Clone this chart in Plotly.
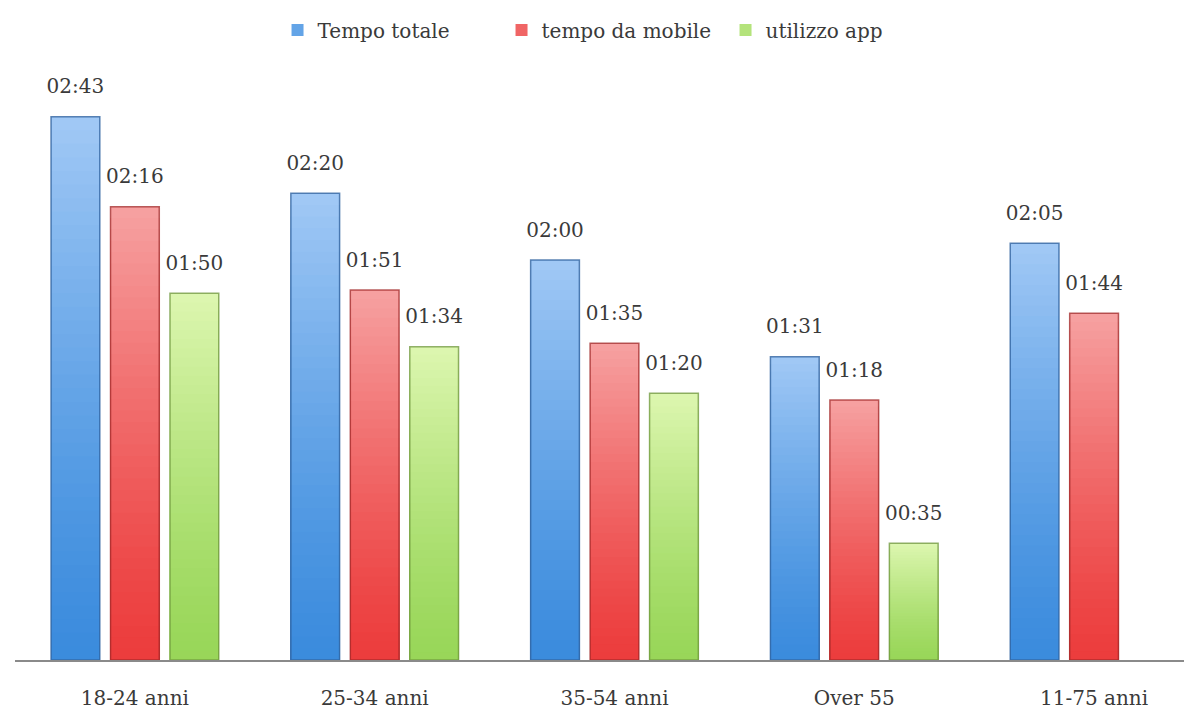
import plotly.graph_objects as go

# Daily time spent online by age band (minutes)
categories = ["18-24 anni", "25-34 anni", "35-54 anni", "Over 55", "11-75 anni"]
series_names = ["Tempo totale", "tempo da mobile", "utilizzo app"]
tempo_totale = [163, 140, 120, 91, 125]
tempo_mobile = [136, 111, 95, 78, 104]
utilizzo_app = [110, 94, 80, 35, None]
series_values = [tempo_totale, tempo_mobile, utilizzo_app]

# (top colour, bottom colour, outline colour) per series
palette = [
    ((160, 200, 245), (58, 139, 221), "rgba(50,100,160,0.8)"),
    ((246, 160, 160), (236, 60, 60), "rgba(160,40,40,0.75)"),
    ((220, 246, 175), (152, 214, 88), "rgba(110,150,60,0.75)"),
]

FONT = "DejaVu Serif"
TEXT_COLOR = "#3a3a3a"
N_STEPS = 40


def mix(c1, c2, t):
    return "rgb({},{},{})".format(*[round(a + (b - a) * t) for a, b in zip(c1, c2)])


def hhmm(v):
    return None if v is None else f"{v // 60:02d}:{v % 60:02d}"


fig = go.Figure()

for s, (name, vals) in enumerate(zip(series_names, series_values)):
    top, bottom, outline = palette[s]
    # vertical shading: tallest/lightest first, shorter/darker bars drawn over it
    for k in range(N_STEPS):
        frac = (N_STEPS - k) / N_STEPS
        fig.add_trace(go.Bar(
            x=categories,
            y=[None if v is None else v * frac for v in vals],
            offsetgroup=str(s),
            legendgroup=name,
            name=name,
            showlegend=(k == N_STEPS // 2),
            marker=dict(color=mix(bottom, top, frac ** 1.3), line=dict(width=0)),
            hoverinfo="skip",
        ))
    # outline of the full bar
    fig.add_trace(go.Bar(
        x=categories,
        y=vals,
        offsetgroup=str(s),
        legendgroup=name,
        name=name,
        showlegend=False,
        marker=dict(color="rgba(0,0,0,0)", line=dict(color=outline, width=1.5)),
        hoverinfo="skip",
    ))

# value labels above each bar
for s, vals in enumerate(series_values):
    fig.add_trace(go.Scatter(
        x=categories,
        y=vals,
        offsetgroup=str(s),
        mode="markers+text",
        text=[hhmm(v) for v in vals],
        textposition="top center",
        textfont=dict(family=FONT, size=20, color=TEXT_COLOR),
        marker=dict(size=28, opacity=0),
        showlegend=False,
        hoverinfo="skip",
        cliponaxis=False,
    ))

fig.update_layout(
    width=1184,
    height=710,
    margin=dict(l=15, r=0, t=60, b=50),
    paper_bgcolor="white",
    plot_bgcolor="white",
    barmode="group",
    bargap=0.256,
    bargroupgap=0.18,
    scattermode="group",
    scattergap=0.256,
    font=dict(family=FONT, color=TEXT_COLOR),
    legend=dict(
        orientation="h",
        x=0.512,
        xanchor="center",
        yref="container",
        y=1 - 30 / 710,
        yanchor="middle",
        font=dict(family=FONT, size=20, color=TEXT_COLOR),
        itemwidth=30,
        entrywidth=179,
        entrywidthmode="pixels",
        traceorder="normal",
    ),
    showlegend=True,
)

fig.update_xaxes(
    type="category",
    range=[-0.5, 4.375],
    showline=True,
    linecolor="#8a8a8a",
    linewidth=1.5,
    ticks="",
    ticklabelstandoff=19,
    tickfont=dict(family=FONT, size=20, color=TEXT_COLOR),
    showgrid=False,
    zeroline=False,
)
fig.update_yaxes(
    range=[0, 180],
    visible=False,
    showgrid=False,
    zeroline=False,
)

fig.write_html("out.html")
